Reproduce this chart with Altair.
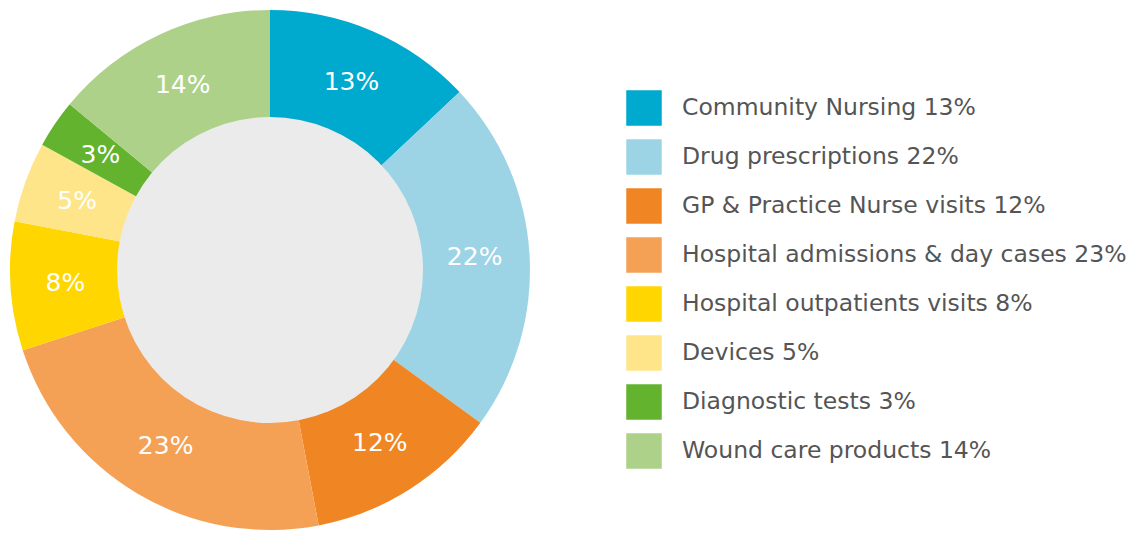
import altair as alt
import pandas as pd

categories = [
    "Community Nursing",
    "Drug prescriptions",
    "GP & Practice Nurse visits",
    "Hospital admissions & day cases",
    "Hospital outpatients visits",
    "Devices",
    "Diagnostic tests",
    "Wound care products",
]
values = [13, 22, 12, 23, 8, 5, 3, 14]
colors = ["#00a9ce", "#9cd4e6", "#ef8523", "#f5a155", "#ffd600", "#ffe58a", "#63b32e", "#aed18a"]

legend_labels = [f"{c} {v}%" for c, v in zip(categories, values)]
df = pd.DataFrame({
    "category": categories,
    "value": values,
    "order": list(range(len(categories))),
    "legend": legend_labels,
    "pct": [f"{v}%" for v in values],
})

CX, CY = 270, 270
R_OUT, R_IN = 260, 153
FONT = "DejaVu Sans"

base = alt.Chart(df).encode(
    theta=alt.Theta("value:Q", stack=True),
    order=alt.Order("order:Q"),
    x=alt.value(CX),
    y=alt.value(CY),
)

arcs = base.mark_arc(outerRadius=R_OUT, innerRadius=R_IN - 2).encode(
    color=alt.Color(
        "legend:N",
        sort=legend_labels,
        scale=alt.Scale(domain=legend_labels, range=colors),
        legend=alt.Legend(
            title=None,
            orient="none",
            legendX=626,
            legendY=90,
            symbolType="square",
            symbolSize=1260,
            symbolStrokeWidth=0,
            symbolOpacity=1,
            labelFontSize=23.5,
            labelFont=FONT,
            labelColor="#555555",
            labelOffset=20,
            rowPadding=13,
            labelLimit=600,
        ),
    )
)

labels = base.mark_text(
    radius=205, fontSize=25, font=FONT, color="white"
).encode(text="pct:N")

inner = alt.Chart(pd.DataFrame({"v": [1]})).mark_arc(
    innerRadius=0, outerRadius=R_IN, theta=0, theta2=6.2832, color="#ebebeb"
).encode(x=alt.value(CX), y=alt.value(CY))

chart = alt.layer(arcs, inner, labels).properties(
    width=1128, height=538, padding=0, autosize=alt.AutoSizeParams(type="none")
).configure_view(stroke=None)

chart.save("out.html", embed_options={"renderer": "svg", "actions": False})
